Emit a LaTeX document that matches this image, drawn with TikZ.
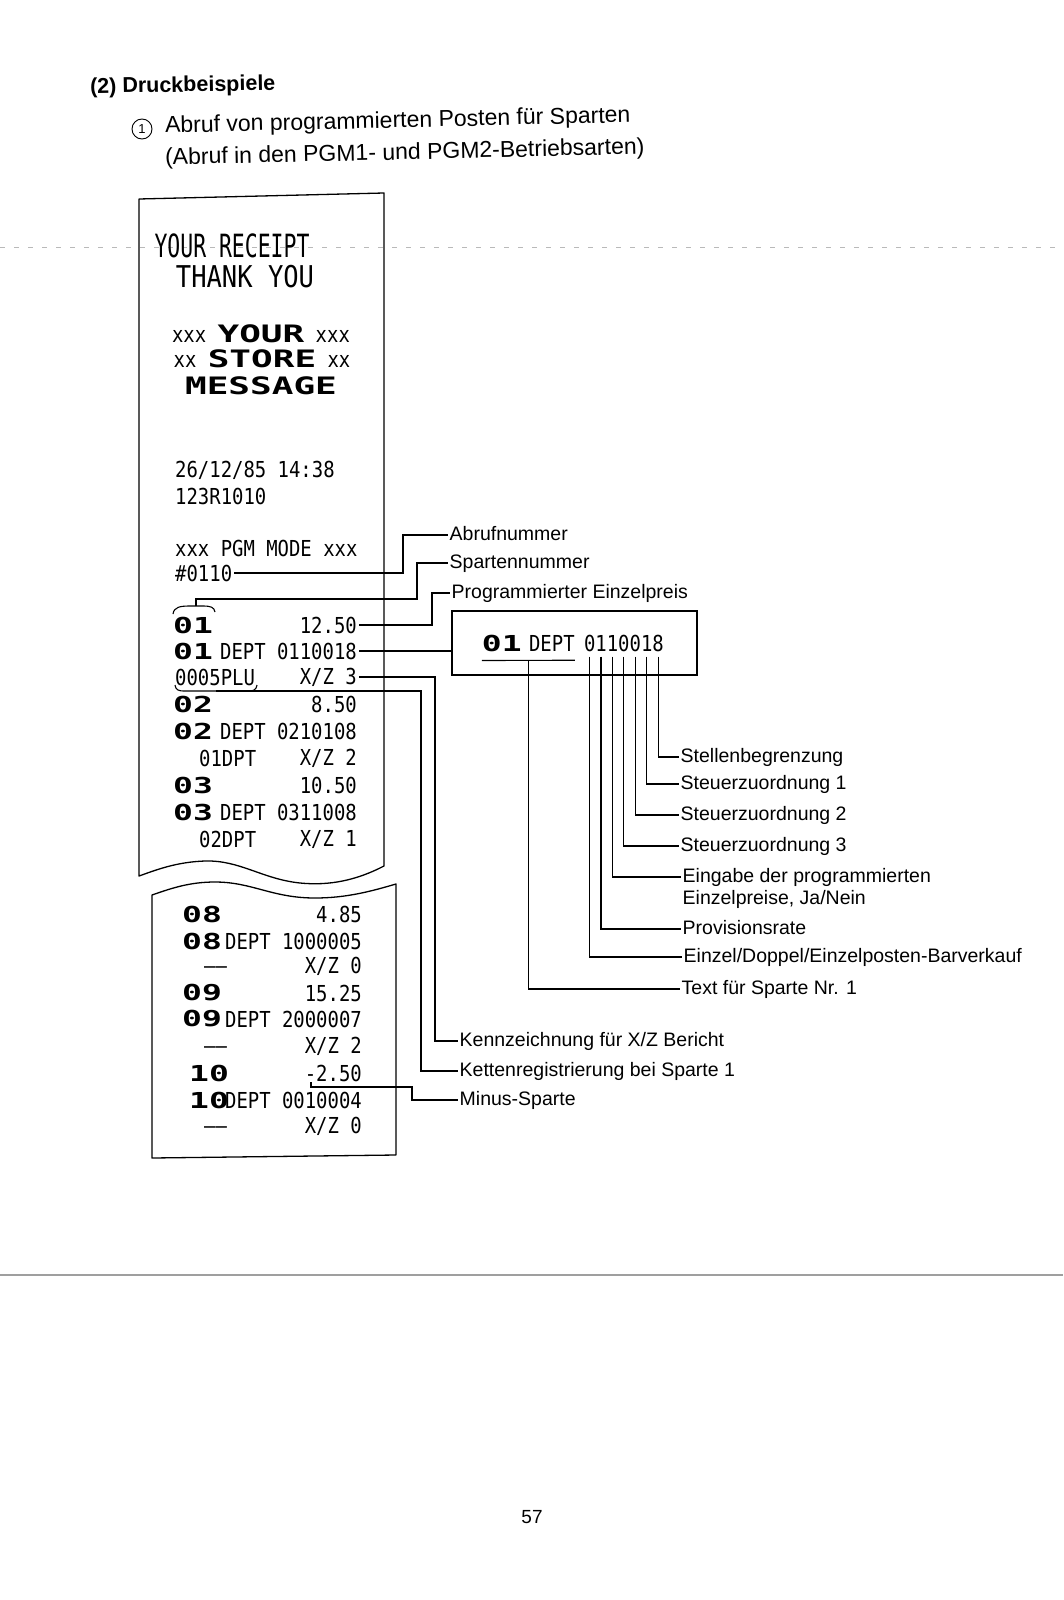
\documentclass[tikz,border=0pt]{standalone}
\usepackage{fontspec}
\setmainfont{Liberation Sans}
\newfontfamily\rcptfont[FakeStretch=0.86]{DejaVu Sans Mono}
\newfontfamily\rcptbig[FakeStretch=0.67]{DejaVu Sans Mono}
\newfontfamily\rcptthank[FakeStretch=0.85]{DejaVu Sans Mono}
\newfontfamily\rcptwide[FakeStretch=1.5]{DejaVu Sans Mono}
\usetikzlibrary{positioning,calc}

\begin{document}
\begin{tikzpicture}[
  x=1pt,y=-1pt,
  paper/.style={draw,line width=1.3pt,line join=round},
  conn/.style={line width=1.1pt},
  lbl/.style={anchor=west,inner sep=1.5pt,text height=14pt,text depth=4pt,font=\fontsize{19.5}{22}\selectfont},
  rcpt/.style={inner sep=2pt,font=\rcptfont\fontsize{22}{24}\selectfont},
  rl/.style={rcpt,anchor=west},
  rr/.style={rcpt,anchor=east},
  dept/.style={anchor=west,inner sep=2pt,font=\rcptwide\bfseries\fontsize{22}{24}\selectfont},
  head/.style={anchor=west,inner sep=0pt,rotate=1.3,font=\fontsize{23}{26}\selectfont}
]
  \fill[white] (0,0) rectangle (1063,1600);
  \useasboundingbox (0,0) rectangle (1063,1600);

  \draw[gray!55,line width=0.8pt,dash pattern=on 5pt off 9pt] (0,247) -- (1063,247);
  \draw[gray!75,line width=1.4pt] (0,1275) -- (1063,1275);

  \node[anchor=west,inner sep=0pt,rotate=1,font=\bfseries\fontsize{21.5}{24}\selectfont] (sect) at (90,88) {(2) Druckbeispiele};
  \node[circle,draw,line width=0.9pt,inner sep=0pt,minimum size=20pt,font=\fontsize{13}{13}\selectfont] (num) at (142,129) {1};
  \node[head] (title1) at (165,127) {Abruf von programmierten Posten für Sparten};
  \node[head] (title2) at (165,159) {(Abruf in den PGM1- und PGM2-Betriebsarten)};

  % receipt
  \draw[paper] (139,876) -- (139,199) -- (384,193) -- (384,866) .. controls (357,880) and (330,886) .. (300,883)
    .. controls (262,879) and (240,860) .. (205,861) .. controls (176,862) and (156,870) .. (139,876) -- cycle;
  \draw[paper] (152,1158) -- (152,895) .. controls (172,888) and (190,882) .. (215,882)
    .. controls (252,882) and (272,898) .. (315,898) .. controls (347,898) and (372,891) .. (396,884) -- (396,1155) -- cycle;

  \node[rcpt,font=\rcptbig\fontsize{32}{34}\selectfont] (yr) at (232,246) {YOUR RECEIPT};
  \node[rcpt,font=\rcptthank\fontsize{30}{32}\selectfont] (ty) at (245,277) {THANK YOU};
  \node[rcpt] (msg1) at (261,334) {xxx {\rcptwide\bfseries\fontsize{24}{26}\selectfont YOUR} xxx};
  \node[rcpt] (msg2) at (262,359) {xx {\rcptwide\bfseries\fontsize{24}{26}\selectfont STORE} xx};
  \node[rcpt,font=\rcptwide\bfseries\fontsize{24}{26}\selectfont] (msg3) at (261,386) {MESSAGE};
  \node[rl] (date) at (173,470) {26/12/85 14:38};
  \node[rl] (mach) at (173,496) {123R1010};
  \node[rl] (pgm) at (173,548) {xxx PGM MODE xxx};
  \node[rl] (n0110) at (173,573) {\#0110};

  \node[dept] (r1l) at (171,625) {01};
  \node[rr] (r1r) at (359,625) {12.50};
  \node[dept] (r2l) at (171,651) {01};
  \node[rr] (r2r) at (359,651) {DEPT 0110018};
  \node[rl] (r3l) at (173,677) {0005PLU};
  \node[rr] (r3r) at (359,677) {X/Z 3};
  \node[dept] (r4l) at (171,704) {02};
  \node[rr] (r4r) at (359,704) {8.50};
  \node[dept] (r5l) at (171,731) {02};
  \node[rr] (r5r) at (359,731) {DEPT 0210108};
  \node[rl] (r6l) at (197,758) {01DPT};
  \node[rr] (r6r) at (359,758) {X/Z 2};
  \node[dept] (r7l) at (171,785) {03};
  \node[rr] (r7r) at (359,785) {10.50};
  \node[dept] (r8l) at (171,812) {03};
  \node[rr] (r8r) at (359,812) {DEPT 0311008};
  \node[rl] (r9l) at (197,839) {02DPT};
  \node[rr] (r9r) at (359,839) {X/Z 1};

  \node[dept] (r10l) at (180,914) {08};
  \node[rr] (r10r) at (364,914) {4.85};
  \node[dept] (r11l) at (180,941) {08};
  \node[rr] (r11r) at (364,941) {DEPT 1000005};
  \node[rl] (r12l) at (202,970) {——};
  \node[rr] (r12r) at (364,966) {X/Z 0};
  \node[dept] (r13l) at (180,993) {09};
  \node[rr] (r13r) at (364,993) {15.25};
  \node[dept] (r14l) at (180,1019) {09};
  \node[rr] (r14r) at (364,1019) {DEPT 2000007};
  \node[rl] (r15l) at (202,1050) {——};
  \node[rr] (r15r) at (364,1046) {X/Z 2};
  \node[dept] (r16l) at (187,1073) {10};
  \node[rr] (r16r) at (364,1073) {-2.50};
  \node[dept] (r17l) at (187,1100) {10};
  \node[rr] (r17r) at (364,1100) {DEPT 0010004};
  \node[rl] (r18l) at (202,1130) {——};
  \node[rr] (r18r) at (364,1126) {X/Z 0};

  % enlarged line
  \node[draw,line width=1.3pt,minimum width=245pt,minimum height=64pt,inner sep=0pt] (box) at (574.5,643) {};
  \node[rcpt,anchor=east,inner sep=0pt] (boxnum) at (664,643) {0110018};
  \node[rcpt,inner sep=0pt,left=9pt of boxnum] (boxdept) {DEPT};
  \node[dept,inner sep=0pt,left=7pt of boxdept] (boxdn) {01};

  % labels
  \node[lbl] (abruf) at (448,535) {Abrufnummer};
  \node[lbl] (sparten) at (448,563) {Spartennummer};
  \node[lbl] (prog) at (450,593) {Programmierter Einzelpreis};
  \node[lbl] (kenn) at (458,1041) {Kennzeichnung für X/Z Bericht};
  \node[lbl] (ketten) at (458,1071) {Kettenregistrierung bei Sparte 1};
  \node[lbl] (minus) at (458,1100) {Minus-Sparte};
  \node[lbl] (lab7) at (679,757) {Stellenbegrenzung};
  \node[lbl] (lab6) at (679,784) {Steuerzuordnung 1};
  \node[lbl] (lab5) at (679,815) {Steuerzuordnung 2};
  \node[lbl] (lab4) at (679,846) {Steuerzuordnung 3};
  \node[lbl] (lab3) at (681,877) {Eingabe der programmierten};
  \node[lbl] (lab3b) at (681,899) {Einzelpreise, Ja/Nein};
  \node[lbl] (lab2) at (681,929) {Provisionsrate};
  \node[lbl] (lab1) at (682,957) {Einzel/Doppel/Einzelposten-Barverkauf};
  \node[lbl] (txtlab) at (680,989) {Text für Sparte Nr. 1};

  \node[font=\fontsize{19}{20}\selectfont] (pgno) at (532,1517) {57};

  % brackets on the receipt
  \coordinate (brk) at (196,606);
  \coordinate (plu) at (216,691);
  \coordinate (mns) at (311,1082);
  \draw[conn] (173,614) .. controls (174,607) and (180,606) .. (190,606) -- (202,606) .. controls (211,606) and (214,607) .. (215,612);
  \draw[conn] (175,685) .. controls (176,690) and (178,691) .. (185,691) -- (248,691) .. controls (254,691) and (256,690) .. (257,685);

  % connectors
  \draw[conn] (n0110.east) -- (403,573) |- (abruf.west);
  \draw[conn] (brk) |- (417,599) |- (sparten.west);
  \draw[conn] (r1r.east) -- (432,625) |- (prog.west);
  \draw[conn] (r2r.east) -- (r2r.east -| box.west);
  \draw[conn] (r3r.east) -- (435,677) |- (kenn.west);
  \draw[conn] (plu) -- (421,691) |- (ketten.west);
  \draw[conn] (mns) |- (412,1087) |- (minus.west);

  \draw[conn] ([yshift=-9pt]boxdn.south west) -- coordinate[midway] (ulmid) ([yshift=-9pt]boxdept.south east);
  \draw[conn] (ulmid) |- (txtlab.west);
  \foreach \i in {1,...,7}
    \coordinate (dig\i) at ($(boxnum.south west)!{(\i-0.5)/7}!(boxnum.south east)+(0,5)$);
  \foreach \i in {1,...,7}
    \draw[conn] (dig\i) |- (lab\i.west);
\end{tikzpicture}
\end{document}
